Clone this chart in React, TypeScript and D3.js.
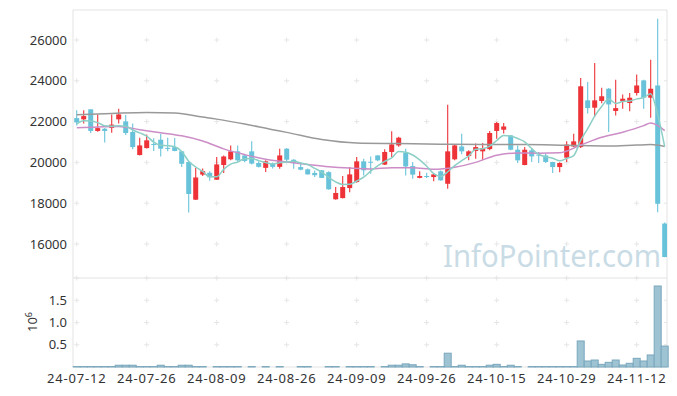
import React from 'react';
import * as d3 from 'd3';

// trading days (yy-mm-dd)
const dates = [
  '24-07-12', '24-07-15', '24-07-16', '24-07-17', '24-07-18', '24-07-19', '24-07-22', '24-07-23', '24-07-24', '24-07-25',
  '24-07-26', '24-07-29', '24-07-30', '24-07-31', '24-08-01', '24-08-02', '24-08-05', '24-08-06', '24-08-07', '24-08-08',
  '24-08-09', '24-08-12', '24-08-13', '24-08-14', '24-08-16', '24-08-19', '24-08-20', '24-08-21', '24-08-22', '24-08-23',
  '24-08-26', '24-08-27', '24-08-28', '24-08-29', '24-08-30', '24-09-02', '24-09-03', '24-09-04', '24-09-05', '24-09-06',
  '24-09-09', '24-09-10', '24-09-11', '24-09-12', '24-09-13', '24-09-19', '24-09-20', '24-09-23', '24-09-24', '24-09-25',
  '24-09-26', '24-09-27', '24-09-30', '24-10-02', '24-10-04', '24-10-07', '24-10-08', '24-10-10', '24-10-11', '24-10-14',
  '24-10-15', '24-10-16', '24-10-17', '24-10-18', '24-10-21', '24-10-22', '24-10-23', '24-10-24', '24-10-25', '24-10-28',
  '24-10-29', '24-10-30', '24-10-31', '24-11-01', '24-11-04', '24-11-05', '24-11-06', '24-11-07', '24-11-08', '24-11-11',
  '24-11-12', '24-11-13', '24-11-14', '24-11-15', '24-11-18',
];

const opens = [
  22170, 22110, 22600, 21540, 21650, 21690, 22110, 22010, 21490, 20360,
  20700, 20900, 21110, 20710, 20750, 20540, 20020, 18170, 19400, 19490,
  19150, 19870, 20150, 20540, 20340, 20540, 19970, 19730, 19930, 19780,
  20670, 20130, 19770, 19660, 19480, 19610, 19520, 18190, 18250, 18740,
  19040, 20050, 20030, 20340, 19890, 20510, 20830, 20470, 19820, 19240,
  19330, 19280, 19560, 18950, 20150, 20780, 20310, 20560, 20540, 20650,
  21540, 21600, 21320, 20620, 19870, 20590, 20380, 20340, 20020, 19770,
  20230, 20780, 20750, 23040, 22680, 23010, 23610, 22520, 23010, 22910,
  23400, 24020, 23170, 23770, 17000,
];
const highs = [
  22550, 22550, 22600, 22350, 21680, 22350, 22630, 22320, 21900, 21210,
  21370, 21180, 21400, 21210, 21200, 20560, 20050, 19740, 19700, 19560,
  20260, 20340, 20830, 20830, 20400, 21030, 20050, 20100, 19990, 20670,
  20700, 20150, 20020, 19700, 19600, 19630, 19560, 18790, 19330, 19770,
  20260, 20180, 20290, 20350, 20640, 21520, 21260, 20670, 20020, 19560,
  19490, 19460, 19600, 22830, 20900, 21400, 20600, 20920, 20950, 21540,
  21980, 21930, 21340, 20830, 20750, 20670, 20510, 20430, 20030, 20000,
  21030, 21400, 24140, 23940, 24870, 23660, 23640, 24050, 23330, 23400,
  24310, 24050, 25030, 27040, 17050,
];
const lows = [
  21810, 21900, 21440, 21500, 20970, 21450, 21900, 21340, 20640, 20340,
  20680, 20560, 20290, 20540, 20540, 19770, 17540, 18150, 19330, 19100,
  19130, 19480, 20100, 20050, 20000, 19900, 19750, 19530, 19700, 19690,
  20050, 19690, 19610, 19400, 19280, 19230, 18660, 18170, 18230, 18540,
  19000, 19360, 19440, 20050, 19870, 20260, 20760, 19360, 19200, 19220,
  19230, 19080, 19100, 18710, 20100, 20400, 20100, 20180, 20100, 20600,
  21160, 21420, 20600, 19970, 19860, 20020, 19970, 19970, 19480, 19520,
  20020, 20750, 20700, 22390, 22220, 22900, 21490, 22300, 22630, 22500,
  23280, 22630, 22190, 17560, 15350,
];
const closes = [
  21960, 22270, 21540, 21680, 21540, 21850, 22350, 21440, 20750, 20830,
  21080, 20850, 20670, 20660, 20560, 19930, 18450, 19260, 19570, 19270,
  19900, 20290, 20540, 20100, 20070, 19940, 19780, 20050, 19780, 20340,
  20130, 19970, 19640, 19410, 19370, 19240, 18680, 18500, 18790, 19410,
  20050, 19610, 19990, 20100, 20510, 20880, 21210, 19800, 19400, 19330,
  19300, 19410, 19120, 20540, 20830, 20540, 20540, 20750, 20700, 21440,
  21930, 21760, 20620, 20100, 20620, 20290, 20330, 20020, 19770, 19970,
  20870, 21030, 23730, 22660, 23040, 23240, 22840, 22660, 23120, 23170,
  23770, 23170, 23610, 17970, 15360,
];
// volume, millions of shares
const volumes = [
  0.01, 0.01, 0.01, 0.01, 0.01, 0.01, 0.04, 0.04, 0.04, 0.01,
  0.01, 0.01, 0.04, 0.01, 0.01, 0.04, 0.04, 0.01, 0.01, 0,
  0.01, 0.01, 0.01, 0.01, 0, 0.01, 0, 0.01, 0, 0.01,
  0, 0, 0.01, 0.01, 0, 0, 0.01, 0.01, 0, 0.01,
  0.01, 0.01, 0.01, 0, 0.01, 0.04, 0.04, 0.07, 0.05, 0.01,
  0, 0.01, 0.01, 0.31, 0.01, 0.04, 0.01, 0.01, 0.01, 0.04,
  0.06, 0.01, 0.04, 0.01, 0, 0.01, 0.01, 0.01, 0.01, 0.01,
  0.01, 0.01, 0.585, 0.135, 0.157, 0.06, 0.105, 0.157, 0.045, 0.083,
  0.195, 0.135, 0.27, 1.82, 0.47,
];

// closes before the window, needed for the first 5-day averages
const priorCloses = [21500, 21600, 22100, 22300];

// 20-day and 60-day averages
const ma20Idx = [0, 3, 6, 9, 12, 15, 18, 21, 24, 27, 30, 33, 36, 39, 42, 45, 48, 51, 54, 57, 60, 63, 66, 69, 72, 75, 78, 81, 82, 84];
const ma20 = [
  21700, 21740, 21760, 21600, 21450, 21300, 21050, 20660, 20380, 20150,
  20020, 19900, 19790, 19720, 19680, 19740, 19740, 19660, 19760, 20000,
  20350, 20460, 20450, 20470, 20850, 21230, 21480, 21800, 21930, 21560,
];
const ma60Idx = [0, 5, 10, 14, 18, 20, 24, 28, 30, 35, 40, 46, 52, 58, 64, 70, 76, 80, 82, 84];
const ma60 = [
  22340, 22400, 22450, 22420, 22220, 22120, 21880, 21600, 21470, 21120,
  20950, 20920, 20890, 20880, 20880, 20840, 20800, 20850, 20870, 20780,
];

const priceTicks = [16000, 18000, 20000, 22000, 24000, 26000];
const volTicks = [0.5, 1.0, 1.5];
const labelEvery = 10;

const W = 677;
const H = 396;
const left = 73;
const right = 667;
const top = 10;
const mainBottom = 277;
const volTop = 278;
const volBottom = 367;

const UP = '#ee3338';
const DOWN = '#68c3da';
const GRID = '#e6e6e6';
const FONT = '"Noto Sans", "DejaVu Sans", sans-serif';

function Cross({ x, y }: { x: number; y: number }) {
  return (
    <g stroke={GRID} strokeWidth={1}>
      <line x1={x - 2.5} x2={x + 2.5} y1={y} y2={y} />
      <line x1={x} x2={x} y1={y - 2.5} y2={y + 2.5} />
    </g>
  );
}

export default function App() {
  const n = dates.length;
  const x = d3.scaleLinear().domain([-0.53, 84.33]).range([left, right]);
  const y = d3.scaleLinear().domain([14380, 27470]).range([mainBottom, top]);
  const yv = d3.scaleLinear().domain([0, 2.0]).range([volBottom, volTop]);

  const allCloses = [...priorCloses, ...closes];
  const ma5 = closes.map((_, i) => d3.mean(allCloses.slice(i, i + 5)) as number);

  const line = d3.line<[number, number]>()
    .x((d) => x(d[0]))
    .y((d) => y(d[1]))
    .curve(d3.curveMonotoneX);

  const ma5Path = line(ma5.map((v, i) => [i, v]));
  const ma20Path = line(ma20.map((v, k) => [ma20Idx[k], v]));
  const ma60Path = line(ma60.map((v, k) => [ma60Idx[k], v]));

  const tickIdx = d3.range(0, n, labelEvery);
  const step = x(1) - x(0);
  const bodyW = 5;

  return (
    <svg width={W} height={H} style={{ position: 'absolute', left: 0, top: 0, background: '#fff' }}
      fontFamily={FONT}>
      <defs>
        <clipPath id="mainClip">
          <rect x={left} y={top} width={right - left} height={mainBottom - top} />
        </clipPath>
      </defs>

      {/* grid crosses */}
      {tickIdx.map((i) => priceTicks.map((p) => <Cross key={`c${i}-${p}`} x={x(i)} y={y(p)} />))}
      {tickIdx.map((i) => volTicks.map((v) => <Cross key={`v${i}-${v}`} x={x(i)} y={yv(v)} />))}
      {tickIdx.map((i) => <Cross key={`s${i}`} x={x(i)} y={volTop} />)}
      {priceTicks.map((p) => <line key={`r${p}`} x1={right - 3} x2={right} y1={y(p)} y2={y(p)} stroke={GRID} />)}
      {volTicks.map((v) => <line key={`rv${v}`} x1={right - 3} x2={right} y1={yv(v)} y2={yv(v)} stroke={GRID} />)}

      {/* watermark */}
      <text x={443} y={267} fontSize={30} fill="#c9dce6" textLength={218} lengthAdjust="spacingAndGlyphs">
        InfoPointer.com
      </text>

      {/* frame */}
      <g stroke="#e3e3e3" strokeWidth={1} fill="none">
        <line x1={left} x2={right} y1={top} y2={top} />
        <line x1={left} x2={left} y1={top} y2={volBottom} />
        <line x1={right} x2={right} y1={top} y2={volBottom} />
        <line x1={left} x2={right} y1={volTop} y2={volTop} />
        <line x1={left} x2={right} y1={volBottom} y2={volBottom} />
      </g>

      {/* candles */}
      <g clipPath="url(#mainClip)">
        {closes.map((c, i) => {
          const o = opens[i];
          const col = c >= o ? UP : DOWN;
          const y0 = y(Math.max(o, c));
          const h = Math.max(1, y(Math.min(o, c)) - y0);
          return (
            <g key={`k${i}`}>
              <line x1={x(i)} x2={x(i)} y1={y(highs[i])} y2={y(lows[i])} stroke={col} strokeWidth={1.1} />
              <rect x={x(i) - bodyW / 2} y={y0} width={bodyW} height={h} fill={col} />
            </g>
          );
        })}
        <path d={ma60Path ?? ''} fill="none" stroke="#999" strokeWidth={1.5} />
        <path d={ma20Path ?? ''} fill="none" stroke="#cc8cc6" strokeWidth={1.5} />
        <path d={ma5Path ?? ''} fill="none" stroke="#8ccfc6" strokeWidth={1.5} />
      </g>

      {/* volume */}
      <g>
        {volumes.map((v, i) => (v > 0 ? (
          <rect key={`b${i}`} x={x(i) - step / 2} y={yv(v)} width={step} height={volBottom - yv(v)}
            fill="#9ec3d3" stroke="#7aa7bd" strokeWidth={1} />
        ) : null))}
      </g>

      {/* axis labels */}
      {priceTicks.map((p) => (
        <text key={`pl${p}`} x={67} y={y(p)} dy="0.35em" textAnchor="end" fontSize={13} fill="#333">{p}</text>
      ))}
      {volTicks.map((v) => (
        <text key={`vl${v}`} x={67} y={yv(v)} dy="0.35em" textAnchor="end" fontSize={13} fill="#333">{v.toFixed(1)}</text>
      ))}
      <text transform="translate(37,332) rotate(-90)" fontSize={13} fill="#333">
        10<tspan dy={-5} fontSize={9}>6</tspan>
      </text>
      {tickIdx.map((i) => (
        <text key={`xl${i}`} x={x(i)} y={383} textAnchor="middle" fontSize={13} fill="#333" letterSpacing={0.8}>
          {dates[i]}
        </text>
      ))}
    </svg>
  );
}
